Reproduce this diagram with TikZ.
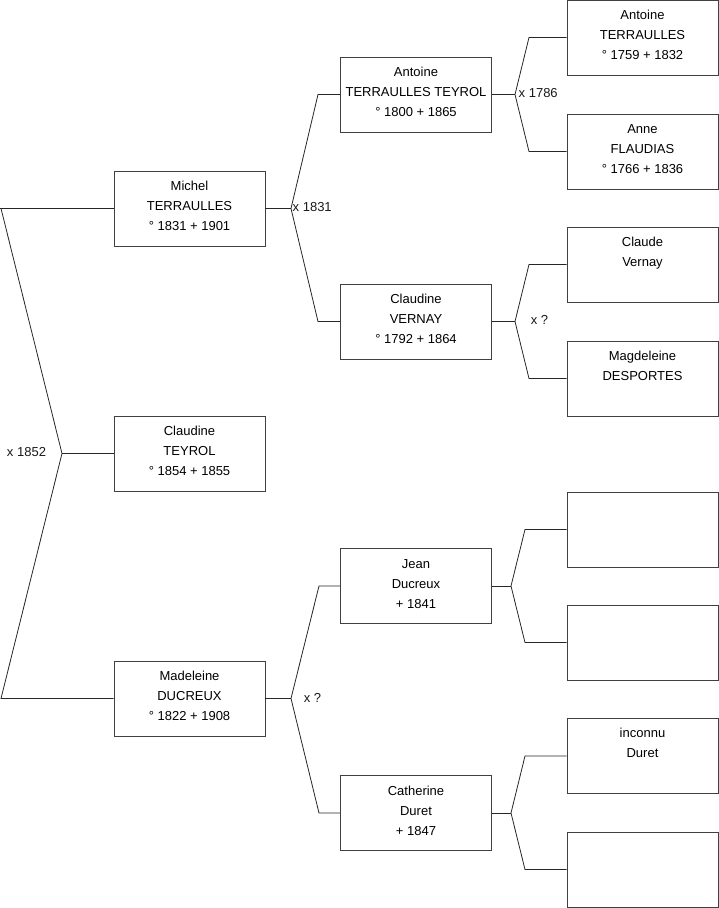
\documentclass[tikz,border=0pt]{standalone}
\usepackage{fontspec}
\setmainfont{Liberation Sans}
\usepackage{tikz}

\begin{document}
\begin{tikzpicture}[x=1pt, y=-1pt,
    personbox/.style={draw=black!75, line width=0.9pt, minimum width=151pt,
      minimum height=75pt, inner sep=0pt, align=center,
      execute at end node={\rule[-4.5pt]{0pt}{0pt}}},
    branch/.style={draw=black!85, line width=0.8pt},
    union/.style={inner sep=0pt, text=black!90}]
  \useasboundingbox (0,0) rectangle (719,908);
  \fontsize{13}{20}\selectfont

  % --- generation 1 ---
  \node[personbox] (michel)    at (189.5,208.5) {Michel\\TERRAULLES\\° 1831 + 1901};
  \node[personbox] (claudine)  at (189.5,453.5) {Claudine\\TEYROL\\° 1854 + 1855};
  \node[personbox] (madeleine) at (189.5,698.5) {Madeleine\\DUCREUX\\° 1822 + 1908};

  % --- generation 2 ---
  \node[personbox] (antoine)   at (416,94.5)  {Antoine\\TERRAULLES TEYROL\\° 1800 + 1865};
  \node[personbox] (vernay)    at (416,321.5) {Claudine\\VERNAY\\° 1792 + 1864};
  \node[personbox] (jean)      at (416,586)   {Jean\\Ducreux\\+ 1841};
  \node[personbox] (catherine) at (416,813)   {Catherine\\Duret\\+ 1847};

  % --- generation 3 ---
  \node[personbox] (antoineT)   at (642.5,37.5)  {Antoine\\TERRAULLES\\° 1759 + 1832};
  \node[personbox] (anne)       at (642.5,151.5) {Anne\\FLAUDIAS\\° 1766 + 1836};
  \node[personbox] (claude)     at (642.5,264.5) {Claude\\Vernay\\\strut};
  \node[personbox] (magdeleine) at (642.5,378.5) {Magdeleine\\DESPORTES\\\strut};
  \node[personbox] (unknownA)   at (642.5,529.5) {};
  \node[personbox] (unknownB)   at (642.5,642.5) {};
  \node[personbox] (inconnu)    at (642.5,756)   {inconnu\\Duret\\\strut};
  \node[personbox] (unknownC)   at (642.5,869.5) {};

  % --- fork points ---
  \coordinate (rootTop) at (1,208.5);
  \coordinate (rootBot) at (1,698.5);
  \coordinate (root)    at (62,453.5);
  \coordinate (fM) at (291,208.5);
  \coordinate (fMa) at (318,94.5);
  \coordinate (fMb) at (318,321.5);
  \coordinate (fD) at (291,698.5);
  \coordinate (fDa) at (319,586);
  \coordinate (fDb) at (319,813);
  \coordinate (fA) at (515,94.5);
  \coordinate (fAa) at (529,37.5);
  \coordinate (fAb) at (529,151.5);
  \coordinate (fV) at (515,321.5);
  \coordinate (fVa) at (529,264.5);
  \coordinate (fVb) at (529,378.5);
  \coordinate (fJ) at (511,586);
  \coordinate (fJa) at (525,529.5);
  \coordinate (fJb) at (525,642.5);
  \coordinate (fC) at (511,813);
  \coordinate (fCa) at (525,756);
  \coordinate (fCb) at (525,869.5);

  % --- connectors ---
  \draw[branch] (0,208.5) -- (michel.west);
  \draw[branch] (rootTop) -- (root) -- (rootBot) -- (madeleine.west);
  \draw[branch] (root) -- (claudine.west);

  \draw[branch] (michel.east) -- (fM);
  \draw[branch] (antoine.west) -- (fMa) -- (fM) -- (fMb) -- (vernay.west);
  \draw[branch] (madeleine.east) -- (fD);
  \draw[branch] (jean.west) -- (fDa) -- (fD) -- (fDb) -- (catherine.west);

  \draw[branch] (antoine.east) -- (fA);
  \draw[branch] (antoineT.west) -- (fAa) -- (fA) -- (fAb) -- (anne.west);
  \draw[branch] (vernay.east) -- (fV);
  \draw[branch] (claude.west) -- (fVa) -- (fV) -- (fVb) -- (magdeleine.west);
  \draw[branch] (jean.east) -- (fJ);
  \draw[branch] (unknownA.west) -- (fJa) -- (fJ) -- (fJb) -- (unknownB.west);
  \draw[branch] (catherine.east) -- (fC);
  \draw[branch] (inconnu.west) -- (fCa) -- (fC) -- (fCb) -- (unknownC.west);

  % --- marriage labels ---
  \node[union] (m1852) at (26.5,452) {x 1852};
  \node[union, anchor=west] (m1831) at (292.5,207.5) {x 1831};
  \node[union, anchor=west] (m1786) at (518.5,93) {x 1786};
  \node[union] (mV) at (539.5,320) {x ?};
  \node[union] (mD) at (312.5,698) {x ?};
\end{tikzpicture}
\end{document}
